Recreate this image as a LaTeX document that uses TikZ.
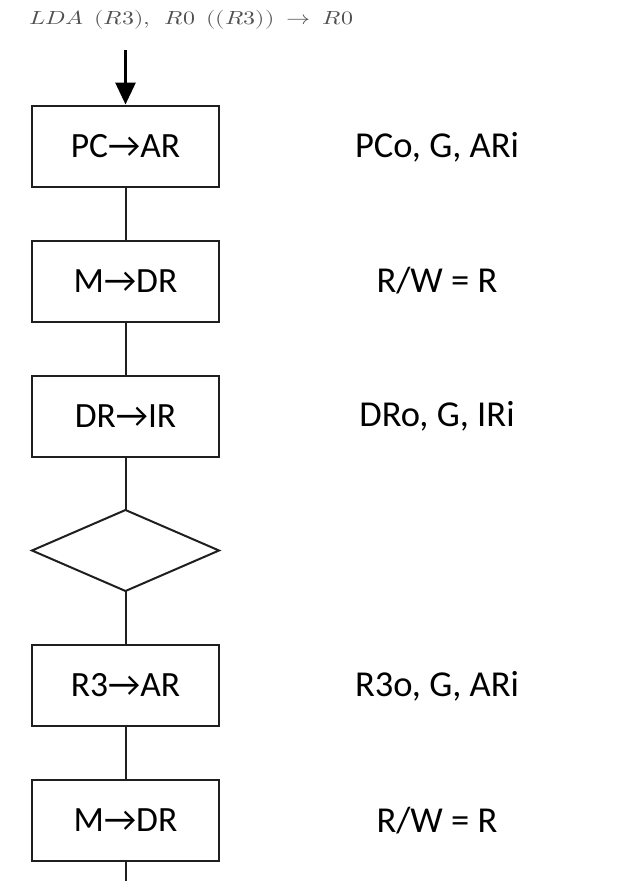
\documentclass[tikz,border=0pt]{standalone}
\usepackage{fontspec}
\setmainfont{Carlito}
\usepackage{unicode-math}
\setmathfont{Latin Modern Math}
\usetikzlibrary{shapes.geometric,arrows.meta}
\definecolor{titlegray}{HTML}{505050}
\begin{document}
\begin{tikzpicture}[x=1pt,y=-1pt,
  stepbox/.style={draw=black!88,line width=2pt,minimum width=187pt,minimum height=81pt,inner sep=0pt,font=\fontsize{35.5}{38}\selectfont},
  decbox/.style={draw=black!88,line width=2pt},
  sig/.style={font=\fontsize{36.5}{40}\selectfont},
  conn/.style={draw=black!88,line width=2pt}]
\useasboundingbox (0,0) rectangle (617,881);
\node[anchor=west,text=titlegray,inner sep=0pt] (title) at (29,20) {\scalebox{1.26}[1]{\fontsize{19}{22}\selectfont$LDA\ \ (R3),\ \ R0\ \ ((R3))\ \rightarrow\ R0$}};
\coordinate (start) at (125.5,50);
\node[stepbox] (b1) at (125.5,146) {PC\symbol{"2192}AR};
\node[stepbox] (b2) at (125.5,281) {M\symbol{"2192}DR};
\node[stepbox] (b3) at (125.5,416) {DR\symbol{"2192}IR};
\draw[decbox] (32,550.5) coordinate (dl) -- (125.5,510) coordinate (dt) -- (219,550.5) coordinate (dr) -- (125.5,591) coordinate (db) -- cycle;
\node[stepbox] (b4) at (125.5,685.5) {R3\symbol{"2192}AR};
\node[stepbox] (b5) at (125.5,820.5) {M\symbol{"2192}DR};
\coordinate (end) at (125.5,881);
\node[sig] (s1) at (437,147) {PCo, G, ARi};
\node[sig] (s2) at (437,281) {R/W = R};
\node[sig] (s3) at (437,416) {DRo, G, IRi};
\node[sig] (s4) at (437,686) {R3o, G, ARi};
\node[sig] (s5) at (437,821) {R/W = R};
\draw[line width=3pt,-{Triangle[length=22pt,width=20pt]}] (start) -- (b1.north);
\draw[conn] (b1) -- (b2);
\draw[conn] (b2) -- (b3);
\draw[conn] (b3) -- (dt);
\draw[conn] (db) -- (b4);
\draw[conn] (b4) -- (b5);
\draw[conn] (b5) -- (end);
\end{tikzpicture}
\end{document}
